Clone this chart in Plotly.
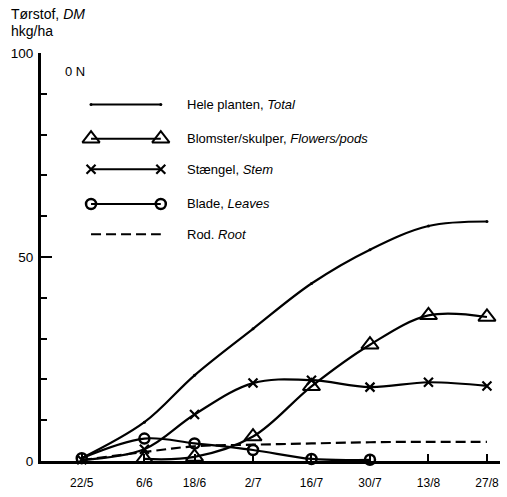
import plotly.graph_objects as go

# ---------------- data ----------------
dates = ["1985-05-22", "1985-06-06", "1985-06-18", "1985-07-02",
         "1985-07-16", "1985-07-30", "1985-08-13", "1985-08-27"]
date_labels = ["22/5", "6/6", "18/6", "2/7", "16/7", "30/7", "13/8", "27/8"]
total = [0.7, 9.5, 21.0, 32.4, 43.5, 51.8, 57.6, 58.7]
flowers = [None, 0.5, 1.0, 6.0, 18.3, 28.5, 35.7, 35.3]
stem = [0.3, 2.9, 11.4, 19.1, 19.8, 18.1, 19.3, 18.4]
leaves = [0.7, 5.5, 4.3, 2.7, 0.5, 0.3, None, None]
root = [0.2, 2.2, 3.6, 4.0, 4.3, 4.6, 4.7, 4.7]

legend_names = ["Hele planten, <i>Total</i>",
                "Blomster/skulper, <i>Flowers/pods</i>",
                "Stængel, <i>Stem</i>",
                "Blade, <i>Leaves</i>",
                "Rod. <i>Root</i>"]
y_ticks = [0, 50, 100]

# ---------------- styles ----------------
FONT = "Liberation Sans, Arial, sans-serif"
BLACK = "#000000"
styles = [
    dict(dash="solid", symbol="circle", size=3, mlw=0),
    dict(dash="solid", symbol="triangle-up-open", size=15, mlw=2),
    dict(dash="solid", symbol="x-thin-open", size=9, mlw=2.2),
    dict(dash="solid", symbol="circle-open", size=10, mlw=2.5),
    dict(dash="10px,5px", symbol="circle", size=0.1, mlw=0),
]
series = [total, flowers, stem, leaves, root]

fig = go.Figure()

for s, st in zip(series, styles):
    fig.add_trace(go.Scatter(
        x=dates, y=s, mode="lines+markers",
        line=dict(color=BLACK, width=2.2, shape="spline", smoothing=1.0, dash=st["dash"]),
        marker=dict(symbol=st["symbol"], size=st["size"], color=BLACK,
                    line=dict(color=BLACK, width=st["mlw"])),
        cliponaxis=False, showlegend=False, connectgaps=False,
    ))

# ---------------- custom legend (key samples on an overlay axis 0..1) ----------------
key_x = [0.109, 0.261]
key_rows = [0.874, 0.790, 0.715, 0.630, 0.556]
text_x = 0.313
for name, st, ry in zip(legend_names, styles, key_rows):
    fig.add_trace(go.Scatter(
        x=key_x, y=[ry, ry], xaxis="x2", yaxis="y2", mode="lines+markers",
        line=dict(color=BLACK, width=2, dash=st["dash"]),
        marker=dict(symbol=st["symbol"], size=st["size"], color=BLACK,
                    line=dict(color=BLACK, width=st["mlw"])),
        cliponaxis=False, showlegend=False, hoverinfo="skip",
    ))
    fig.add_annotation(x=text_x, y=ry, xref="paper", yref="paper", text=name,
                       showarrow=False, xanchor="left", yanchor="middle",
                       font=dict(family=FONT, size=13, color=BLACK))

# ---------------- titles ----------------
fig.add_annotation(x=-0.0696, y=1.0966, xref="paper", yref="paper",
                   text="Tørstof, <i>DM</i>", showarrow=False,
                   xanchor="left", yanchor="middle",
                   font=dict(family=FONT, size=14, color=BLACK))
fig.add_annotation(x=-0.0696, y=1.053, xref="paper", yref="paper",
                   text="hkg/ha", showarrow=False,
                   xanchor="left", yanchor="middle",
                   font=dict(family=FONT, size=14, color=BLACK))
fig.add_annotation(x=0.048, y=0.954, xref="paper", yref="paper",
                   text="0 N", showarrow=False,
                   xanchor="left", yanchor="middle",
                   font=dict(family=FONT, size=13, color=BLACK))

fig.update_layout(
    width=507, height=497,
    margin=dict(l=41, r=7, t=53, b=30),
    paper_bgcolor="white", plot_bgcolor="white",
    font=dict(family=FONT, color=BLACK),
    showlegend=False,
    xaxis=dict(
        type="date",
        range=["1985-05-12 06:00", "1985-08-30 03:00"],
        tickvals=dates, ticktext=date_labels,
        ticks="inside", ticklen=7, tickwidth=1.5, tickcolor=BLACK,
        showline=True, linecolor=BLACK, linewidth=3,
        showgrid=False, zeroline=False,
        tickfont=dict(family=FONT, size=12, color=BLACK),
        ticklabelstandoff=9,
    ),
    yaxis=dict(
        range=[0, 100],
        tickvals=y_ticks,
        ticks="inside", ticklen=11, tickwidth=2, tickcolor=BLACK,
        minor=dict(ticks="inside", ticklen=6, tickwidth=2, tickcolor=BLACK, dtick=10),
        showline=True, linecolor=BLACK, linewidth=3,
        showgrid=False, zeroline=False,
        tickfont=dict(family=FONT, size=13.5, color=BLACK),
        ticklabelstandoff=2,
    ),
    xaxis2=dict(overlaying="x", range=[0, 1], visible=False, domain=[0, 1]),
    yaxis2=dict(overlaying="y", range=[0, 1], visible=False),
)

fig.write_html("out.html")
